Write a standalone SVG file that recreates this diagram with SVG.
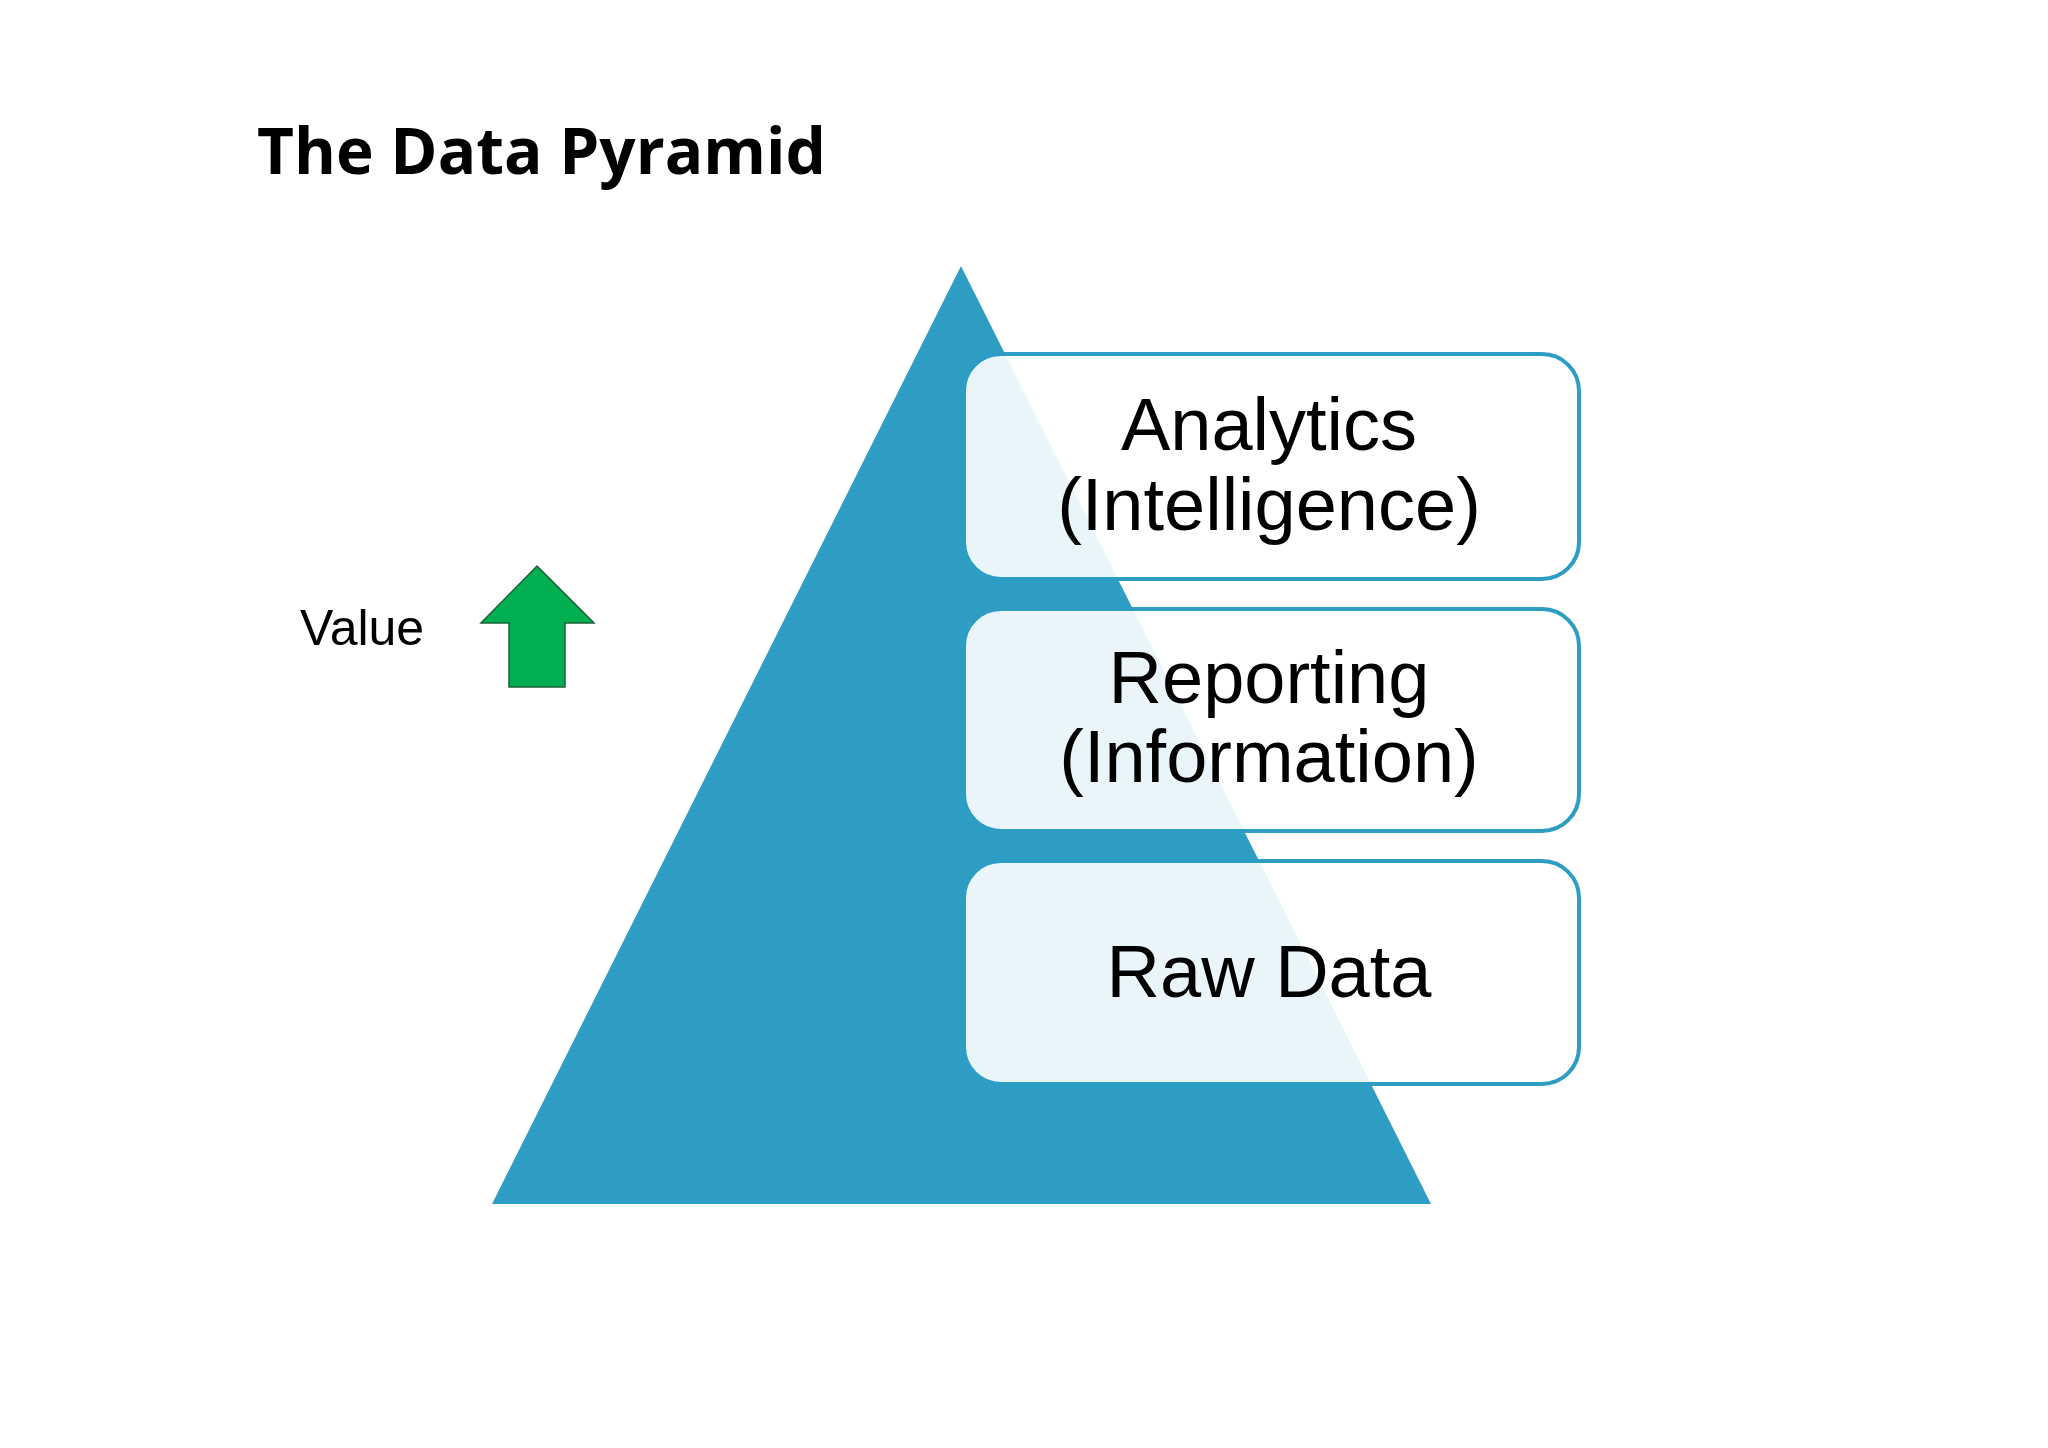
<svg xmlns="http://www.w3.org/2000/svg" width="2048" height="1448" viewBox="0 0 2048 1448">
<style>
.box{fill:#ffffff;fill-opacity:0.9;stroke:#2E9DC4;stroke-width:4}
.lbl{font-family:"Liberation Sans",Arial,sans-serif;font-size:74px;fill:#000;text-anchor:middle}
</style>
<rect width="2048" height="1448" fill="#fff"/>
<text x="257" y="174" font-family="'Open Sans','Liberation Sans',sans-serif" font-weight="bold" font-size="64" fill="#000" textLength="569" lengthAdjust="spacingAndGlyphs">The Data Pyramid</text>
<g id="pyramid"><polygon points="961,266 492,1204 1431,1204" fill="#2E9DC4"/></g>
<g id="value"><text x="300" y="645" font-family="'Liberation Sans',Arial,sans-serif" font-size="50" fill="#000">Value</text></g>
<g id="arrow"><polygon points="537,566 594,623 565,623 565,687 509,687 509,623 481,623" fill="#00B050" stroke="#1f5f3a" stroke-width="1.5"/></g>
<g id="analytics"><rect class="box" x="964" y="354" width="615" height="225" rx="37"/>
<text class="lbl" x="1269" y="450">Analytics</text><text class="lbl" x="1269" y="530">(Intelligence)</text></g>
<g id="reporting"><rect class="box" x="964" y="609" width="615" height="222" rx="37"/>
<text class="lbl" x="1269" y="703">Reporting</text><text class="lbl" x="1269" y="782">(Information)</text></g>
<g id="rawdata"><rect class="box" x="964" y="861" width="615" height="223" rx="37"/>
<text class="lbl" x="1269" y="997">Raw Data</text></g>
<g id="connectors"></g>
</svg>
